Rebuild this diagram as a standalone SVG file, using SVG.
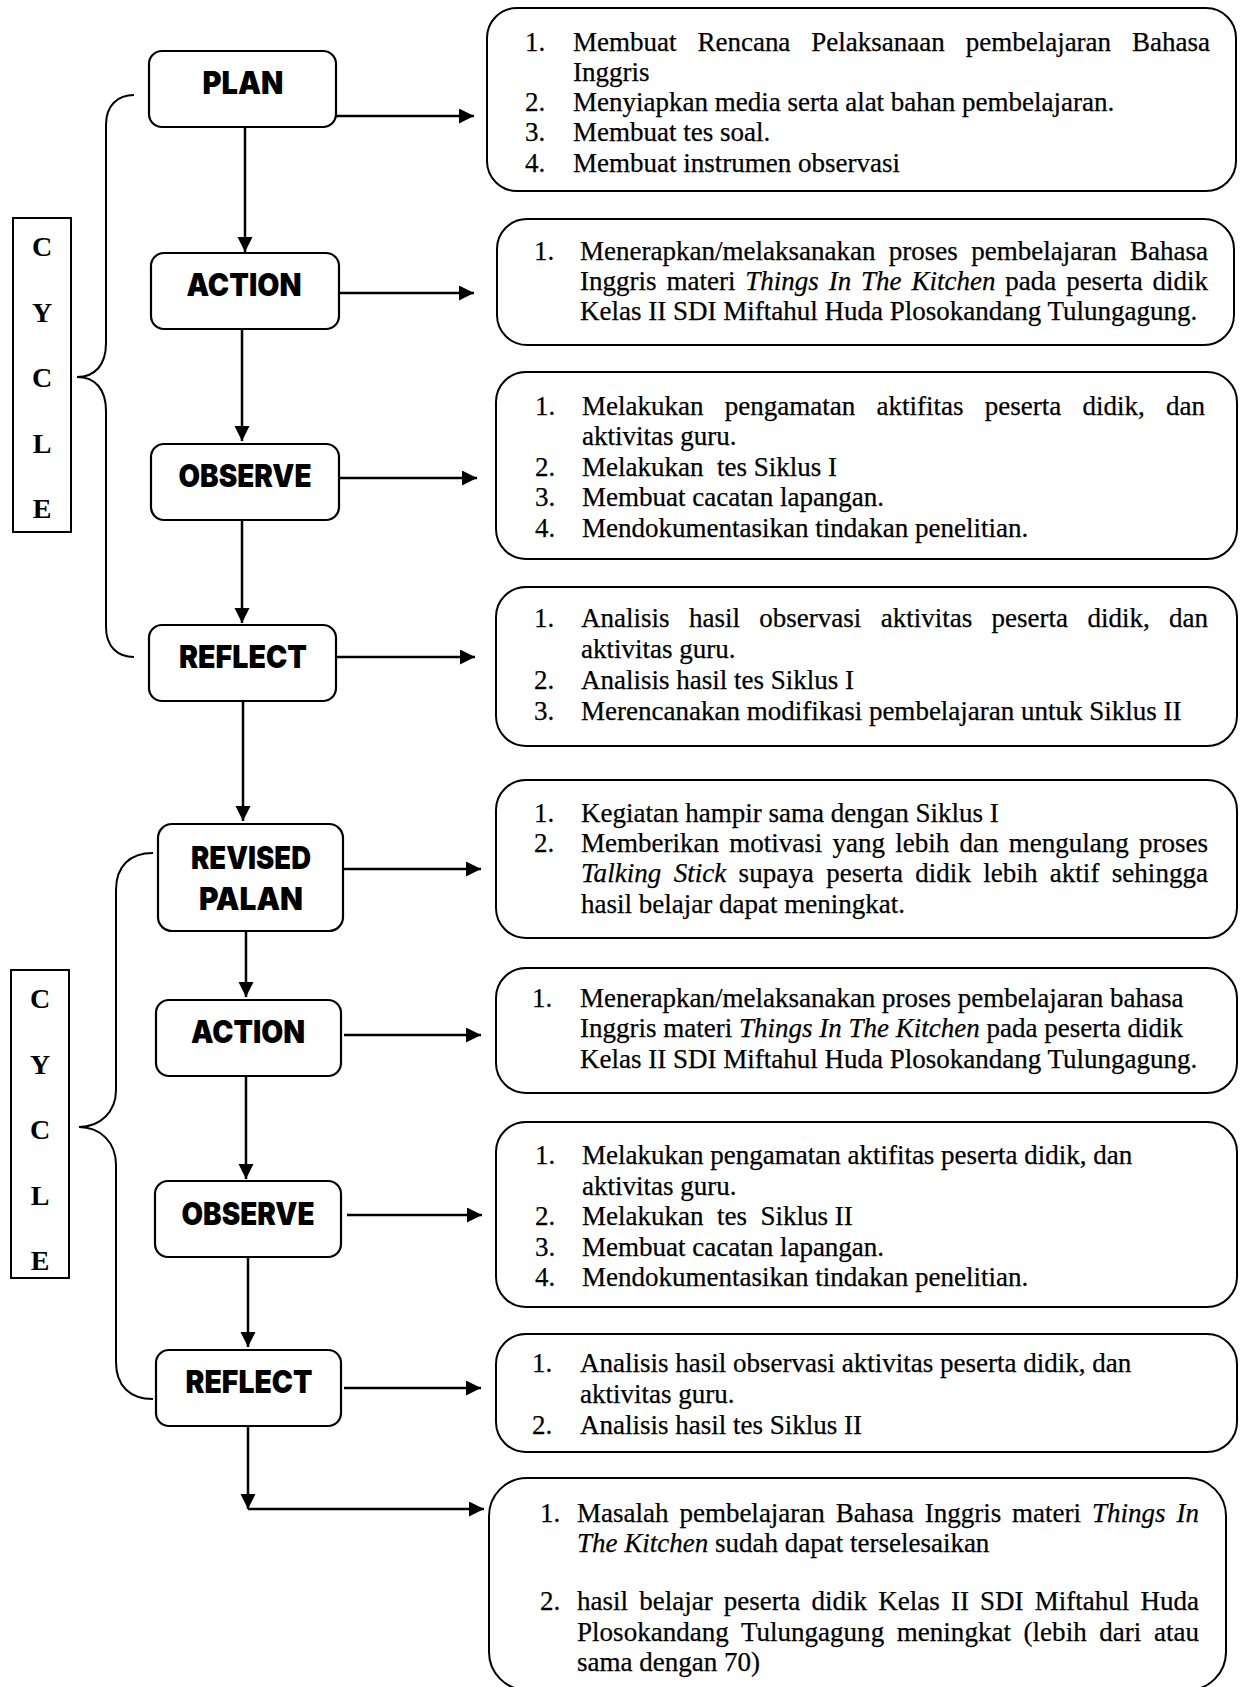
<svg xmlns="http://www.w3.org/2000/svg" width="1240" height="1687" viewBox="0 0 1240 1687">
<style>
.t{font-family:"Liberation Serif","Times New Roman",serif;font-size:27px;fill:#000;stroke:#000;stroke-width:0.25}
.i{font-style:italic}
.h{font-family:Inter,Lato,"Open Sans",sans-serif;font-weight:900;font-size:31px;text-anchor:middle;fill:#000}
.c{font-family:"Liberation Serif","Times New Roman",serif;font-weight:bold;font-size:28px;text-anchor:middle;fill:#000}
.nb{fill:#fff;stroke:#000;stroke-width:2.2}
.db{fill:#fff;stroke:#000;stroke-width:2}
.cb{fill:#fff;stroke:#000;stroke-width:2}
.ln{stroke:#000;stroke-width:2.5;fill:none}
.br{stroke:#000;stroke-width:2;fill:none}
</style>
<defs>
<marker id="ah" markerUnits="userSpaceOnUse" markerWidth="16" markerHeight="16" refX="15" refY="7.5" orient="auto">
<path d="M0,0 L15,7.5 L0,15 z" fill="#000"/>
</marker>
</defs>
<rect width="1240" height="1687" fill="#fff"/>

<g id="connectors">
<path class="ln" d="M245,127 V252" marker-end="url(#ah)"/>
<path class="ln" d="M242,329 V441" marker-end="url(#ah)"/>
<path class="ln" d="M242,520 V623" marker-end="url(#ah)"/>
<path class="ln" d="M243,701 V821" marker-end="url(#ah)"/>
<path class="ln" d="M246,931 V997" marker-end="url(#ah)"/>
<path class="ln" d="M246,1076 V1179" marker-end="url(#ah)"/>
<path class="ln" d="M248,1256 V1347" marker-end="url(#ah)"/>
<path class="ln" d="M248,1426 V1509" marker-end="url(#ah)"/>
<path class="ln" d="M336,116 H474" marker-end="url(#ah)"/>
<path class="ln" d="M339,293 H474" marker-end="url(#ah)"/>
<path class="ln" d="M339,478 H477" marker-end="url(#ah)"/>
<path class="ln" d="M336,657 H475" marker-end="url(#ah)"/>
<path class="ln" d="M343,869 H481" marker-end="url(#ah)"/>
<path class="ln" d="M344,1035 H481" marker-end="url(#ah)"/>
<path class="ln" d="M347,1215 H482" marker-end="url(#ah)"/>
<path class="ln" d="M344,1388 H481" marker-end="url(#ah)"/>
<path class="ln" d="M248,1509 H484" marker-end="url(#ah)"/>
</g>

<g id="braces">
<path class="br" d="M134,95 C118,95 106,105 106,125 L106,343 C106,365 95,377 77,377 C95,377 106,389 106,411 L106,627 C106,647 118,657 134,657"/>
<path class="br" d="M153,853 C130,853 116,866 116,890 L116,1090 C116,1112 100,1127 79,1127 C100,1127 116,1142 116,1165 L116,1362 C116,1386 130,1399 153,1399"/>
</g>

<g id="cycle1">
<rect class="cb" x="13" y="218" width="58" height="314"/>
<text class="c" x="42" y="256">C</text>
<text class="c" x="42" y="322">Y</text>
<text class="c" x="42" y="387">C</text>
<text class="c" x="42" y="453">L</text>
<text class="c" x="42" y="518">E</text>
</g>
<g id="cycle2">
<rect class="cb" x="11" y="970" width="58" height="308"/>
<text class="c" x="40" y="1008">C</text>
<text class="c" x="40" y="1074">Y</text>
<text class="c" x="40" y="1139">C</text>
<text class="c" x="40" y="1205">L</text>
<text class="c" x="40" y="1270">E</text>
</g>

<g id="plan"><rect class="nb" x="149" y="51" width="187" height="76" rx="13"/><text class="h" x="243" y="94" textLength="81" lengthAdjust="spacingAndGlyphs">PLAN</text></g>
<g id="action1"><rect class="nb" x="151" y="253" width="188" height="76" rx="13"/><text class="h" x="244" y="296" textLength="115" lengthAdjust="spacingAndGlyphs">ACTION</text></g>
<g id="observe1"><rect class="nb" x="151" y="444" width="188" height="76" rx="13"/><text class="h" x="245" y="487" textLength="133" lengthAdjust="spacingAndGlyphs">OBSERVE</text></g>
<g id="reflect1"><rect class="nb" x="149" y="625" width="187" height="76" rx="13"/><text class="h" x="243" y="668" textLength="128" lengthAdjust="spacingAndGlyphs">REFLECT</text></g>
<g id="revised-plan"><rect class="nb" x="158" y="824" width="185" height="107" rx="14"/><text class="h" x="251" y="869" textLength="120" lengthAdjust="spacingAndGlyphs">REVISED</text><text class="h" x="251" y="910" textLength="104" lengthAdjust="spacingAndGlyphs">PALAN</text></g>
<g id="action2"><rect class="nb" x="156" y="1000" width="185" height="76" rx="13"/><text class="h" x="248" y="1043" textLength="114" lengthAdjust="spacingAndGlyphs">ACTION</text></g>
<g id="observe2"><rect class="nb" x="155" y="1181" width="186" height="76" rx="13"/><text class="h" x="248" y="1225" textLength="133" lengthAdjust="spacingAndGlyphs">OBSERVE</text></g>
<g id="reflect2"><rect class="nb" x="156" y="1350" width="185" height="76" rx="13"/><text class="h" x="249" y="1393" textLength="127" lengthAdjust="spacingAndGlyphs">REFLECT</text></g>

<g id="plan-detail">
<rect class="db" x="487" y="8" width="749" height="183" rx="30"/>
<text class="t" x="525" y="51">1.</text><text class="t" x="573" y="51" word-spacing="14.2" textLength="637" lengthAdjust="spacing">Membuat Rencana Pelaksanaan pembelajaran Bahasa</text>
<text class="t" x="573" y="81">Inggris</text>
<text class="t" x="525" y="111">2.</text><text class="t" x="573" y="111">Menyiapkan media serta alat bahan pembelajaran.</text>
<text class="t" x="525" y="141">3.</text><text class="t" x="573" y="141">Membuat tes soal.</text>
<text class="t" x="525" y="172">4.</text><text class="t" x="573" y="172">Membuat instrumen observasi</text>
</g>

<g id="action1-detail">
<rect class="db" x="497" y="219" width="737" height="126" rx="30"/>
<text class="t" x="534" y="260">1.</text><text class="t" x="580" y="260" word-spacing="6.6" textLength="628" lengthAdjust="spacing">Menerapkan/melaksanakan proses pembelajaran Bahasa</text>
<text class="t" x="580" y="290" word-spacing="3.1" textLength="628" lengthAdjust="spacing">Inggris materi <tspan class="i">Things In The Kitchen</tspan> pada peserta didik</text>
<text class="t" x="580" y="320">Kelas II SDI Miftahul Huda Plosokandang Tulungagung.</text>
</g>

<g id="observe1-detail">
<rect class="db" x="496" y="372" width="741" height="187" rx="30"/>
<text class="t" x="535" y="415">1.</text><text class="t" x="582" y="415" word-spacing="14.5" textLength="623" lengthAdjust="spacing">Melakukan pengamatan aktifitas peserta didik, dan</text>
<text class="t" x="582" y="445">aktivitas guru.</text>
<text class="t" x="535" y="476">2.</text><text class="t" x="582" y="476" xml:space="preserve">Melakukan  tes Siklus I</text>
<text class="t" x="535" y="506">3.</text><text class="t" x="582" y="506">Membuat cacatan lapangan.</text>
<text class="t" x="535" y="537">4.</text><text class="t" x="582" y="537">Mendokumentasikan tindakan penelitian.</text>
</g>

<g id="reflect1-detail">
<rect class="db" x="496" y="587" width="741" height="159" rx="30"/>
<text class="t" x="534" y="627">1.</text><text class="t" x="581" y="627" word-spacing="12.6" textLength="627" lengthAdjust="spacing">Analisis hasil observasi aktivitas peserta didik, dan</text>
<text class="t" x="581" y="658">aktivitas guru.</text>
<text class="t" x="534" y="689">2.</text><text class="t" x="581" y="689">Analisis hasil tes Siklus I</text>
<text class="t" x="534" y="720">3.</text><text class="t" x="581" y="720">Merencanakan modifikasi pembelajaran untuk Siklus II</text>
</g>

<g id="revised-plan-detail">
<rect class="db" x="496" y="780" width="741" height="158" rx="30"/>
<text class="t" x="534" y="822">1.</text><text class="t" x="581" y="822">Kegiatan hampir sama dengan Siklus I</text>
<text class="t" x="534" y="852">2.</text><text class="t" x="581" y="852" word-spacing="3.5" textLength="627" lengthAdjust="spacing">Memberikan motivasi yang lebih dan mengulang proses</text>
<text class="t" x="581" y="882" word-spacing="5.5" textLength="627" lengthAdjust="spacing"><tspan class="i">Talking Stick</tspan> supaya peserta didik lebih aktif sehingga</text>
<text class="t" x="581" y="913">hasil belajar dapat meningkat.</text>
</g>

<g id="action2-detail">
<rect class="db" x="496" y="968" width="741" height="125" rx="30"/>
<text class="t" x="532" y="1007">1.</text><text class="t" x="580" y="1007">Menerapkan/melaksanakan proses pembelajaran bahasa</text>
<text class="t" x="580" y="1037">Inggris materi <tspan class="i">Things In The Kitchen</tspan> pada peserta didik</text>
<text class="t" x="580" y="1068">Kelas II SDI Miftahul Huda Plosokandang Tulungagung.</text>
</g>

<g id="observe2-detail">
<rect class="db" x="496" y="1122" width="741" height="185" rx="30"/>
<text class="t" x="535" y="1164">1.</text><text class="t" x="582" y="1164">Melakukan pengamatan aktifitas peserta didik, dan</text>
<text class="t" x="582" y="1195">aktivitas guru.</text>
<text class="t" x="535" y="1225">2.</text><text class="t" x="582" y="1225" xml:space="preserve">Melakukan  tes  Siklus II</text>
<text class="t" x="535" y="1256">3.</text><text class="t" x="582" y="1256">Membuat cacatan lapangan.</text>
<text class="t" x="535" y="1286">4.</text><text class="t" x="582" y="1286">Mendokumentasikan tindakan penelitian.</text>
</g>

<g id="reflect2-detail">
<rect class="db" x="496" y="1334" width="741" height="118" rx="30"/>
<text class="t" x="532" y="1372">1.</text><text class="t" x="580" y="1372">Analisis hasil observasi aktivitas peserta didik, dan</text>
<text class="t" x="580" y="1403">aktivitas guru.</text>
<text class="t" x="532" y="1434">2.</text><text class="t" x="580" y="1434">Analisis hasil tes Siklus II</text>
</g>

<g id="result">
<rect class="db" x="489" y="1478" width="737" height="212" rx="38"/>
<text class="t" x="540" y="1522">1.</text><text class="t" x="577" y="1522" word-spacing="4.2" textLength="622" lengthAdjust="spacing">Masalah pembelajaran Bahasa Inggris materi <tspan class="i">Things In</tspan></text>
<text class="t" x="577" y="1552"><tspan class="i">The Kitchen</tspan> sudah dapat terselesaikan</text>
<text class="t" x="540" y="1610">2.</text><text class="t" x="577" y="1610" word-spacing="4.45" textLength="622" lengthAdjust="spacing">hasil belajar peserta didik Kelas II SDI Miftahul Huda</text>
<text class="t" x="577" y="1641" word-spacing="5.8" textLength="622" lengthAdjust="spacing">Plosokandang Tulungagung meningkat (lebih dari atau</text>
<text class="t" x="577" y="1671">sama dengan 70)</text>
</g>
</svg>
